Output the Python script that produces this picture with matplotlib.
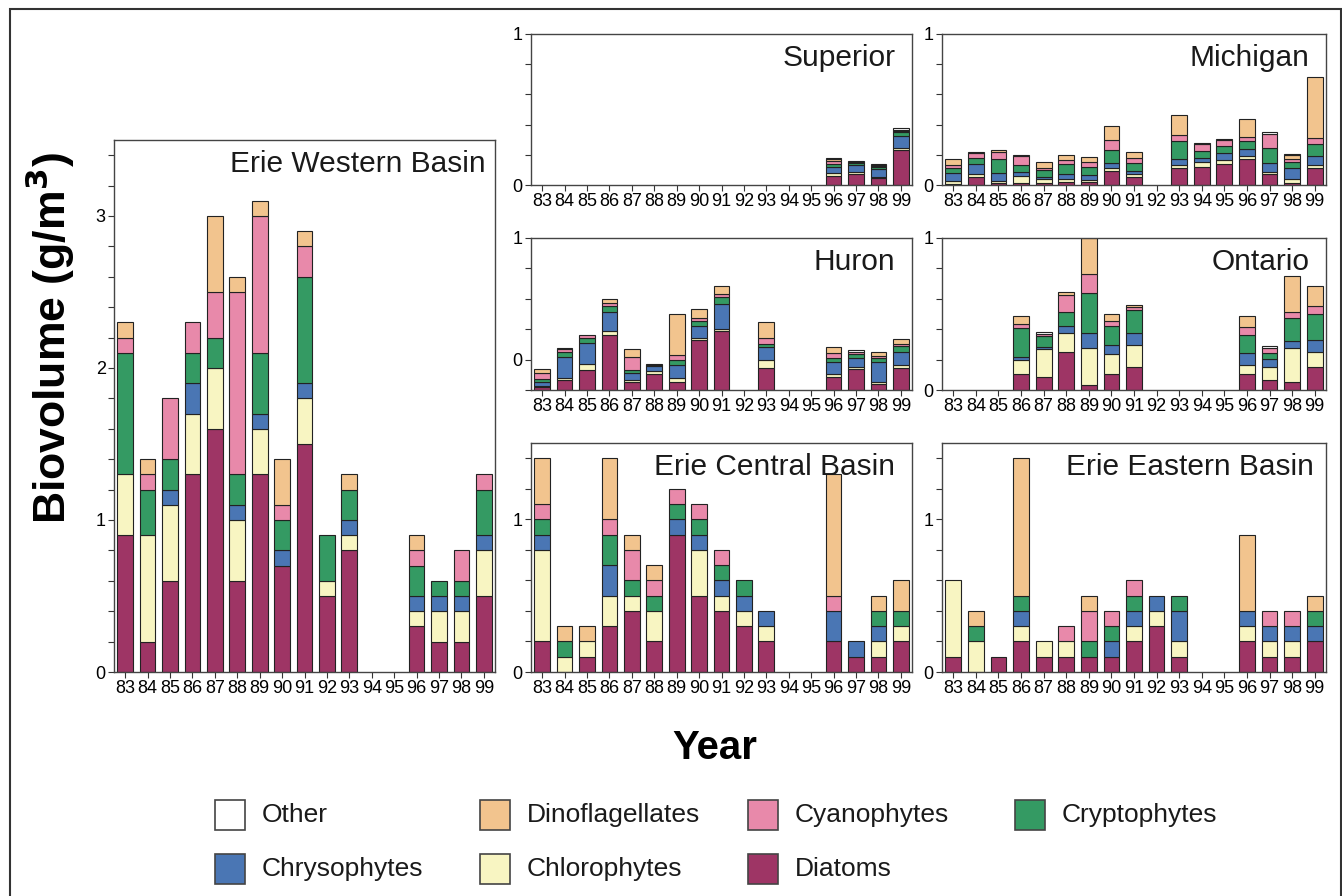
import numpy as np
import matplotlib
matplotlib.use('Agg')
import matplotlib.pyplot as plt
from matplotlib.patches import Rectangle

plt.rcParams['font.family'] = ['Liberation Sans', 'DejaVu Sans']

years = ['83', '84', '85', '86', '87', '88', '89', '90', '91',
         '92', '93', '94', '95', '96', '97', '98', '99']

# stacking order, bottom to top
groups = ['Diatoms', 'Chlorophytes', 'Chrysophytes', 'Cryptophytes',
          'Cyanophytes', 'Dinoflagellates', 'Other']
colors = ['#9e3565', '#f8f5c2', '#4a76b4', '#349a63',
          '#e889aa', '#f2c48e', '#ffffff']

# biovolume (g/m3) per group, rows follow `groups`
superior = [
    [0, 0, 0, 0, 0, 0, 0, 0, 0, 0, 0, 0, 0, 0.06, 0.075, 0.045, 0.235],
    [0, 0, 0, 0, 0, 0, 0, 0, 0, 0, 0, 0, 0, 0.02, 0.01, 0.01, 0.012],
    [0, 0, 0, 0, 0, 0, 0, 0, 0, 0, 0, 0, 0, 0.04, 0.05, 0.05, 0.08],
    [0, 0, 0, 0, 0, 0, 0, 0, 0, 0, 0, 0, 0, 0.02, 0.01, 0.015, 0.025],
    [0, 0, 0, 0, 0, 0, 0, 0, 0, 0, 0, 0, 0, 0.02, 0.005, 0.005, 0.005],
    [0, 0, 0, 0, 0, 0, 0, 0, 0, 0, 0, 0, 0, 0.01, 0.005, 0.01, 0.008],
    [0, 0, 0, 0, 0, 0, 0, 0, 0, 0, 0, 0, 0, 0.01, 0.005, 0.005, 0.015],
]
michigan = [
    [0.005, 0.055, 0.015, 0.01, 0.01, 0.02, 0.02, 0.095, 0.05, 0, 0.11, 0.12, 0.137, 0.17, 0.07, 0.015, 0.11],
    [0.02, 0.02, 0.01, 0.05, 0.03, 0.02, 0.01, 0.015, 0.023, 0, 0.02, 0.035, 0.028, 0.02, 0.014, 0.025, 0.02],
    [0.055, 0.067, 0.055, 0.025, 0.015, 0.033, 0.036, 0.034, 0.022, 0, 0.04, 0.022, 0.045, 0.047, 0.06, 0.07, 0.06],
    [0.03, 0.04, 0.09, 0.05, 0.045, 0.067, 0.054, 0.086, 0.049, 0, 0.124, 0.048, 0.05, 0.057, 0.1, 0.04, 0.084],
    [0.02, 0.03, 0.05, 0.055, 0.015, 0.025, 0.035, 0.07, 0.033, 0, 0.036, 0.045, 0.04, 0.022, 0.093, 0.02, 0.039],
    [0.04, 0, 0.015, 0, 0.04, 0.035, 0.03, 0.09, 0.043, 0, 0.135, 0, 0, 0.12, 0, 0.03, 0.404],
    [0, 0.007, 0, 0.01, 0, 0, 0, 0, 0, 0, 0, 0.007, 0.003, 0, 0.013, 0.004, 0],
]
huron = [
    [0.018, 0.066, 0.13, 0.363, 0.055, 0.108, 0.055, 0.327, 0.385, 0, 0.147, 0, 0, 0.086, 0.138, 0.04, 0.147],
    [0.01, 0.014, 0.04, 0.027, 0.013, 0.017, 0.022, 0.013, 0.015, 0, 0.051, 0, 0, 0.022, 0.016, 0.01, 0.018],
    [0.027, 0.14, 0.14, 0.12, 0.042, 0.035, 0.088, 0.078, 0.167, 0, 0.083, 0, 0, 0.074, 0.056, 0.132, 0.088],
    [0.02, 0.03, 0.03, 0.04, 0.022, 0.005, 0.035, 0.039, 0.048, 0, 0.019, 0, 0, 0.028, 0.027, 0.028, 0.035],
    [0.039, 0.02, 0.02, 0.02, 0.088, 0.005, 0.03, 0.016, 0.018, 0, 0.04, 0, 0, 0.036, 0.016, 0.014, 0.012],
    [0.022, 0, 0, 0.03, 0.053, 0, 0.27, 0.059, 0.053, 0, 0.11, 0, 0, 0.034, 0, 0.024, 0.038],
    [0, 0.005, 0, 0, 0, 0, 0, 0, 0, 0, 0, 0, 0, 0, 0.007, 0, 0],
]
ontario = [
    [0, 0, 0, 0.103, 0.083, 0.25, 0.033, 0.103, 0.153, 0, 0, 0, 0, 0.103, 0.066, 0.055, 0.149],
    [0, 0, 0, 0.092, 0.19, 0.122, 0.241, 0.131, 0.142, 0, 0, 0, 0, 0.061, 0.087, 0.219, 0.103],
    [0, 0, 0, 0.019, 0.013, 0.05, 0.102, 0.061, 0.081, 0, 0, 0, 0, 0.079, 0.051, 0.048, 0.076],
    [0, 0, 0, 0.196, 0.067, 0.092, 0.264, 0.125, 0.149, 0, 0, 0, 0, 0.122, 0.037, 0.153, 0.169],
    [0, 0, 0, 0.025, 0.018, 0.11, 0.12, 0.033, 0.02, 0, 0, 0, 0, 0.049, 0.033, 0.039, 0.054],
    [0, 0, 0, 0.055, 0, 0.021, 0.24, 0.047, 0.017, 0, 0, 0, 0, 0.074, 0, 0.236, 0.132],
    [0, 0, 0, 0, 0.009, 0, 0, 0, 0, 0, 0, 0, 0, 0, 0.013, 0, 0],
]
erie_west = [
    [0.9, 0.2, 0.6, 1.3, 1.6, 0.6, 1.3, 0.7, 1.5, 0.5, 0.8, 0, 0, 0.3, 0.2, 0.2, 0.5],
    [0.4, 0.7, 0.5, 0.4, 0.4, 0.4, 0.3, 0, 0.3, 0.1, 0.1, 0, 0, 0.1, 0.2, 0.2, 0.3],
    [0, 0, 0.1, 0.2, 0, 0.1, 0.1, 0.1, 0.1, 0, 0.1, 0, 0, 0.1, 0.1, 0.1, 0.1],
    [0.8, 0.3, 0.2, 0.2, 0.2, 0.2, 0.4, 0.2, 0.7, 0.3, 0.2, 0, 0, 0.2, 0.1, 0.1, 0.3],
    [0.1, 0.1, 0.4, 0.2, 0.3, 1.2, 0.9, 0.1, 0.2, 0, 0, 0, 0, 0.1, 0, 0.2, 0.1],
    [0.1, 0.1, 0, 0, 0.5, 0.1, 0.1, 0.3, 0.1, 0, 0.1, 0, 0, 0.1, 0, 0, 0],
    [0, 0, 0, 0, 0, 0, 0, 0, 0, 0, 0, 0, 0, 0, 0, 0, 0],
]
erie_central = [
    [0.2, 0, 0.1, 0.3, 0.4, 0.2, 0.9, 0.5, 0.4, 0.3, 0.2, 0, 0, 0.2, 0.1, 0.1, 0.2],
    [0.6, 0.1, 0.1, 0.2, 0.1, 0.2, 0, 0.3, 0.1, 0.1, 0.1, 0, 0, 0, 0, 0.1, 0.1],
    [0.1, 0, 0, 0.2, 0, 0, 0.1, 0.1, 0.1, 0.1, 0.1, 0, 0, 0.2, 0.1, 0.1, 0],
    [0.1, 0.1, 0, 0.2, 0.1, 0.1, 0.1, 0.1, 0.1, 0.1, 0, 0, 0, 0, 0, 0.1, 0.1],
    [0.1, 0, 0, 0.1, 0.2, 0.1, 0.1, 0.1, 0.1, 0, 0, 0, 0, 0.1, 0, 0, 0],
    [0.3, 0.1, 0.1, 0.4, 0.1, 0.1, 0, 0, 0, 0, 0, 0, 0, 0.8, 0, 0.1, 0.2],
    [0, 0, 0, 0, 0, 0, 0, 0, 0, 0, 0, 0, 0, 0, 0, 0, 0],
]
erie_east = [
    [0.1, 0, 0.1, 0.2, 0.1, 0.1, 0.1, 0.1, 0.2, 0.3, 0.1, 0, 0, 0.2, 0.1, 0.1, 0.2],
    [0.5, 0.2, 0, 0.1, 0.1, 0.1, 0, 0, 0.1, 0.1, 0.1, 0, 0, 0.1, 0.1, 0.1, 0],
    [0, 0, 0, 0.1, 0, 0, 0, 0.1, 0.1, 0.1, 0.2, 0, 0, 0.1, 0.1, 0.1, 0.1],
    [0, 0.1, 0, 0.1, 0, 0, 0.1, 0.1, 0.1, 0, 0.1, 0, 0, 0, 0, 0, 0.1],
    [0, 0, 0, 0, 0, 0.1, 0.2, 0.1, 0.1, 0, 0, 0, 0, 0, 0.1, 0.1, 0],
    [0, 0.1, 0, 0.9, 0, 0, 0.1, 0, 0, 0, 0, 0, 0, 0.5, 0, 0, 0.1],
    [0, 0, 0, 0, 0, 0, 0, 0, 0, 0, 0, 0, 0, 0, 0, 0, 0],
]

W, H = 1342, 896


def box(l, t, r, b):
    """ pixel box -> figure fraction rect """
    return [l / W, 1 - b / H, (r - l) / W, (b - t) / H]


def panel(rect, data, title, ytop, ylabels, pad=-12):
    ax = fig.add_axes(box(*rect))
    x = np.arange(len(years))
    bottom = np.zeros(len(years))
    for vals, c in zip(data, colors):
        vals = np.array(vals, dtype=float)
        m = vals > 0  # empty segments are not drawn
        ax.bar(x[m], vals[m], 0.7, bottom=bottom[m], color=c,
               edgecolor='#222222', linewidth=0.8)
        bottom += vals
    ax.set_xlim(-0.5, len(years) - 0.5)
    ax.set_ylim(0, ytop)
    ax.set_xticks(x)
    ax.set_xticklabels(years, fontsize=13)
    ticks = np.arange(0, ytop + 0.001, 0.2)
    ax.set_yticks(ticks)
    ax.set_yticklabels([ylabels.get(round(t, 1), '') for t in ticks], fontsize=13)
    ax.tick_params(length=4, width=0.8, color='#333333', pad=2)
    for s in ax.spines.values():
        s.set_color('#444444')
        s.set_linewidth(1.0)
    ax.annotate(title, xy=(1, 1), xycoords='axes fraction',
                xytext=(pad, -7), textcoords='offset points',
                ha='right', va='top', fontsize=21.5, color='#1a1a1a')
    return ax


fig = plt.figure(figsize=(W / 100, H / 100), dpi=100)

panel((114, 140, 495, 672), erie_west, 'Erie Western Basin', 3.5,
      {0.0: '0', 1.0: '1', 2.0: '2', 3.0: '3'}, pad=-7)
panel((531, 34, 912, 185), superior, 'Superior', 1.0, {0.0: '0', 1.0: '1'})
panel((942, 34, 1326, 185), michigan, 'Michigan', 1.0, {0.0: '0', 1.0: '1'})
# the Huron panel of the original has its "0" label one tick up
panel((531, 238, 912, 390), huron, 'Huron', 1.0, {0.2: '0', 1.0: '1'})
panel((942, 238, 1326, 390), ontario, 'Ontario', 1.0, {0.0: '0', 1.0: '1'})
panel((531, 443, 912, 672), erie_central, 'Erie Central Basin', 1.5,
      {0.0: '0', 1.0: '1'})
panel((942, 443, 1326, 672), erie_east, 'Erie Eastern Basin', 1.5,
      {0.0: '0', 1.0: '1'}, pad=-9)

fig.text(715 / W, 1 - 748 / H, 'Year', ha='center', va='center',
         fontsize=29, fontweight='bold')
fig.text(50 / W, 1 - 338 / H, r'Biovolume (g/m$^{\mathbf{3}}$)', ha='center',
         va='center', rotation=90, fontsize=32, fontweight='bold')

# legend, laid out as in the original (two rows)
legend_rows = [
    [('Other', 215), ('Dinoflagellates', 480), ('Cyanophytes', 748), ('Cryptophytes', 1015)],
    [('Chrysophytes', 215), ('Chlorophytes', 480), ('Diatoms', 748)],
]
for row, yc in zip(legend_rows, [815, 869]):
    for name, xl in row:
        c = colors[groups.index(name)]
        fig.patches.append(Rectangle((xl / W, 1 - (yc + 15) / H), 30 / W, 30 / H,
                                     transform=fig.transFigure, facecolor=c,
                                     edgecolor='#444444', linewidth=1.2))
        fig.text((xl + 47) / W, 1 - yc / H, name, ha='left', va='center',
                 fontsize=19, color='#1a1a1a')

# outer frame
fig.patches.append(Rectangle((10 / W, -0.05), (1341 - 10) / W, 1.05 - 9 / H,
                             transform=fig.transFigure, fill=False,
                             edgecolor='#333333', linewidth=1.5))

fig.savefig('out.png', dpi=100)
